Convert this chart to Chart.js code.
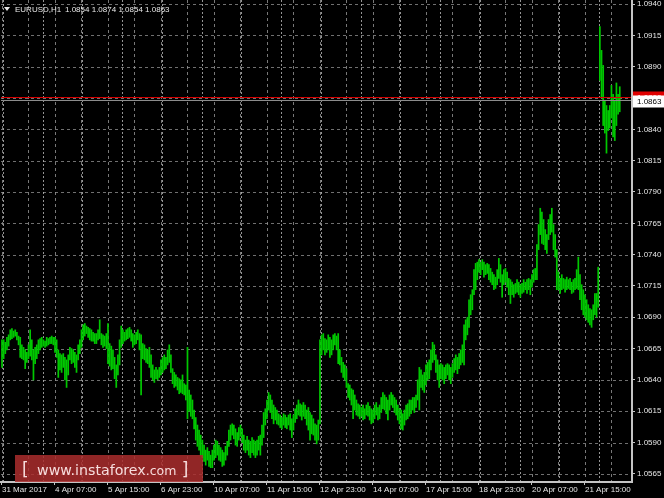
<!DOCTYPE html>
<html><head><meta charset="utf-8">
<script src="https://cdn.jsdelivr.net/npm/chart.js@4.4.1/dist/chart.umd.min.js"></script>
<style>html,body{margin:0;padding:0;background:#000;overflow:hidden}#wrap{width:664px;height:498px;position:relative}</style>
</head><body><div id="wrap"><canvas id="c" width="664" height="498"></canvas></div>
<script>
// ---- data ----
const symbolName = "EURUSD,H1";
const lastOHLC = [1.0854, 1.0874, 1.0854, 1.0863];
const bidPrice = 1.0863;
const askPrice = 1.0866;
const firstBar = -1; // bar number of first bar (31 Mar 23:00); 0 = 3 Apr 00:00
const highs = [
1.0672,1.0672,1.0670,1.0674,1.0676,1.0680,1.0681,1.0679,1.0680,1.0678,
1.0675,1.0674,1.0668,1.0666,1.0664,1.0662,1.0668,1.0680,1.0672,1.0664,
1.0666,1.0668,1.0672,1.0673,1.0674,1.0672,1.0671,1.0674,1.0673,1.0674,
1.0675,1.0674,1.0674,1.0672,1.0664,1.0661,1.0660,1.0661,1.0658,1.0656,
1.0660,1.0666,1.0665,1.0664,1.0662,1.0660,1.0668,1.0672,1.0680,1.0684,
1.0685,1.0683,1.0682,1.0681,1.0680,1.0678,1.0677,1.0677,1.0680,1.0688,
1.0677,1.0676,1.0675,1.0677,1.0685,1.0669,1.0667,1.0664,1.0658,1.0652,
1.0660,1.0672,1.0683,1.0680,1.0678,1.0680,1.0681,1.0682,1.0680,1.0677,
1.0676,1.0678,1.0680,1.0677,1.0676,1.0669,1.0668,1.0665,1.0664,1.0666,
1.0660,1.0652,1.0648,1.0650,1.0648,1.0650,1.0656,1.0658,1.0660,1.0658,
1.0664,1.0668,1.0660,1.0649,1.0646,1.0644,1.0642,1.0641,1.0640,1.0644,
1.0637,1.0636,1.0666,1.0632,1.0628,1.0624,1.0616,1.0610,1.0604,1.0600,
1.0596,1.0592,1.0588,1.0584,1.0586,1.0583,1.0580,1.0584,1.0588,1.0592,
1.0591,1.0588,1.0586,1.0584,1.0582,1.0587,1.0591,1.0600,1.0604,1.0605,
1.0604,1.0601,1.0598,1.0602,1.0604,1.0601,1.0596,1.0592,1.0595,1.0592,
1.0591,1.0594,1.0592,1.0591,1.0592,1.0595,1.0596,1.0604,1.0614,1.0617,
1.0624,1.0630,1.0628,1.0624,1.0620,1.0618,1.0616,1.0613,1.0612,1.0610,
1.0613,1.0612,1.0610,1.0612,1.0613,1.0609,1.0612,1.0617,1.0620,1.0624,
1.0621,1.0620,1.0622,1.0620,1.0616,1.0618,1.0614,1.0612,1.0609,1.0605,
1.0604,1.0608,1.0672,1.0676,1.0677,1.0673,1.0672,1.0676,1.0674,1.0672,
1.0676,1.0677,1.0675,1.0677,1.0664,1.0658,1.0654,1.0652,1.0649,1.0637,
1.0636,1.0633,1.0632,1.0628,1.0624,1.0621,1.0620,1.0618,1.0620,1.0617,
1.0620,1.0622,1.0619,1.0617,1.0616,1.0620,1.0622,1.0618,1.0620,1.0626,
1.0630,1.0628,1.0626,1.0624,1.0628,1.0630,1.0628,1.0626,1.0624,1.0620,
1.0617,1.0616,1.0613,1.0616,1.0620,1.0621,1.0624,1.0624,1.0626,1.0626,
1.0628,1.0640,1.0650,1.0648,1.0644,1.0646,1.0652,1.0654,1.0656,1.0664,
1.0670,1.0668,1.0660,1.0656,1.0652,1.0653,1.0652,1.0650,1.0652,1.0653,
1.0652,1.0650,1.0653,1.0657,1.0660,1.0658,1.0661,1.0664,1.0668,1.0684,
1.0688,1.0690,1.0704,1.0708,1.0712,1.0728,1.0733,1.0734,1.0736,1.0734,
1.0736,1.0734,1.0732,1.0733,1.0732,1.0729,1.0726,1.0724,1.0722,1.0728,
1.0737,1.0732,1.0724,1.0728,1.0729,1.0726,1.0721,1.0720,1.0718,1.0716,
1.0717,1.0720,1.0718,1.0716,1.0717,1.0720,1.0718,1.0720,1.0721,1.0720,
1.0724,1.0728,1.0729,1.0748,1.0764,1.0777,1.0774,1.0768,1.0760,1.0756,
1.0768,1.0772,1.0777,1.0764,1.0756,1.0744,1.0726,1.0721,1.0724,1.0721,
1.0720,1.0722,1.0720,1.0721,1.0718,1.0720,1.0721,1.0728,1.0738,1.0724,
1.0716,1.0712,1.0708,1.0704,1.0700,1.0697,1.0696,1.0700,1.0709,1.0709,
1.0730,1.0922,1.0903,1.0891,1.0863,1.0859,1.0855,1.0859,1.0875,1.0868,
1.0863,1.0877,1.0868,1.0874
];
const lows = [
1.0650,1.0657,1.0661,1.0664,1.0667,1.0672,1.0673,1.0674,1.0675,1.0672,
1.0668,1.0658,1.0657,1.0656,1.0649,1.0654,1.0657,1.0659,1.0656,1.0640,
1.0653,1.0657,1.0661,1.0664,1.0666,1.0667,1.0666,1.0667,1.0668,1.0669,
1.0669,1.0668,1.0662,1.0658,1.0642,1.0648,1.0646,1.0650,1.0640,1.0634,
1.0644,1.0656,1.0653,1.0654,1.0650,1.0646,1.0656,1.0661,1.0666,1.0672,
1.0675,1.0677,1.0674,1.0672,1.0671,1.0671,1.0669,1.0669,1.0672,1.0673,
1.0668,1.0666,1.0667,1.0665,1.0653,1.0651,1.0648,1.0649,1.0641,1.0634,
1.0644,1.0652,1.0666,1.0669,1.0671,1.0672,1.0673,1.0674,1.0671,1.0666,
1.0668,1.0669,1.0672,1.0664,1.0628,1.0657,1.0656,1.0654,1.0653,1.0650,
1.0642,1.0640,1.0638,1.0641,1.0640,1.0642,1.0644,1.0646,1.0648,1.0649,
1.0652,1.0654,1.0646,1.0637,1.0634,1.0635,1.0632,1.0629,1.0630,1.0629,
1.0628,1.0624,1.0609,1.0615,1.0611,1.0609,1.0601,1.0592,1.0587,1.0584,
1.0580,1.0578,1.0575,1.0572,1.0576,1.0571,1.0570,1.0570,1.0576,1.0578,
1.0580,1.0576,1.0575,1.0571,1.0572,1.0576,1.0580,1.0587,1.0592,1.0596,
1.0593,1.0588,1.0587,1.0592,1.0595,1.0590,1.0584,1.0582,1.0584,1.0580,
1.0578,1.0582,1.0580,1.0578,1.0580,1.0584,1.0580,1.0588,1.0594,1.0604,
1.0609,1.0616,1.0614,1.0609,1.0605,1.0608,1.0605,1.0604,1.0602,1.0601,
1.0604,1.0602,1.0601,1.0604,1.0600,1.0594,1.0600,1.0606,1.0609,1.0612,
1.0611,1.0608,1.0611,1.0609,1.0604,1.0600,1.0592,1.0597,1.0596,1.0592,
1.0589,1.0592,1.0605,1.0660,1.0664,1.0660,1.0662,1.0664,1.0658,1.0660,
1.0664,1.0668,1.0664,1.0653,1.0652,1.0646,1.0642,1.0640,1.0634,1.0626,
1.0624,1.0620,1.0609,1.0616,1.0612,1.0611,1.0609,1.0611,1.0608,1.0609,
1.0612,1.0611,1.0608,1.0605,1.0606,1.0609,1.0612,1.0608,1.0609,1.0614,
1.0617,1.0616,1.0613,1.0608,1.0616,1.0620,1.0618,1.0614,1.0612,1.0608,
1.0605,1.0601,1.0600,1.0604,1.0608,1.0609,1.0611,1.0613,1.0616,1.0614,
1.0618,1.0624,1.0616,1.0634,1.0632,1.0630,1.0636,1.0640,1.0641,1.0648,
1.0654,1.0656,1.0646,1.0640,1.0634,1.0641,1.0640,1.0637,1.0641,1.0644,
1.0640,1.0637,1.0642,1.0646,1.0648,1.0645,1.0649,1.0652,1.0654,1.0652,
1.0672,1.0676,1.0682,1.0692,1.0696,1.0708,1.0712,1.0720,1.0726,1.0724,
1.0728,1.0722,1.0724,1.0725,1.0720,1.0718,1.0716,1.0712,1.0713,1.0716,
1.0721,1.0718,1.0706,1.0716,1.0718,1.0714,1.0708,1.0701,1.0708,1.0706,
1.0709,1.0710,1.0708,1.0706,1.0709,1.0710,1.0712,1.0709,1.0712,1.0708,
1.0714,1.0718,1.0720,1.0720,1.0744,1.0756,1.0749,1.0748,1.0744,1.0741,
1.0752,1.0756,1.0758,1.0744,1.0738,1.0712,1.0712,1.0709,1.0712,1.0713,
1.0710,1.0712,1.0713,1.0712,1.0709,1.0710,1.0712,1.0713,1.0712,1.0704,
1.0696,1.0692,1.0690,1.0688,1.0686,1.0684,1.0682,1.0688,1.0692,1.0690,
1.0698,1.0879,1.0866,1.0843,1.0837,1.0821,1.0839,1.0841,1.0849,1.0834,
1.0831,1.0843,1.0852,1.0854
];
const xTickBars = [-1, 31, 63, 95, 127, 159, 191, 223, 255, 287, 319, 351];
const xTickLabels = ["31 Mar 2017","4 Apr 07:00","5 Apr 15:00","6 Apr 23:00","10 Apr 07:00","11 Apr 15:00","12 Apr 23:00","14 Apr 07:00","17 Apr 15:00","18 Apr 23:00","20 Apr 07:00","21 Apr 15:00"];
const xGridBars = [-1,15,31,47,63,79,95,111,127,143,159,175,191,207,223,239,255,271,287,303,319,335,351,367];
const daySeparatorBars = [0,24,48,72,96,120,144,168,192,216,240,264,288,312,336,360];
const yTicks = [1.0565,1.0590,1.0615,1.0640,1.0665,1.0690,1.0715,1.0740,1.0765,1.0790,1.0815,1.0840,1.0865,1.0890,1.0915,1.0940];
const yLabelTicks = [1.0565,1.0590,1.0615,1.0640,1.0665,1.0690,1.0715,1.0740,1.0765,1.0790,1.0815,1.0840,1.0890,1.0915,1.0940];
const watermark = ["[ ", "www.instaforex", ".com", " ]"];

// ---- chart ----
const FONT = "Liberation Sans, Arial, sans-serif";
const gridPlugin = {
  id: 'mtgrid',
  beforeDatasetsDraw(chart) {
    const {ctx, chartArea: a, scales: {x, y}} = chart;
    ctx.save();
    ctx.lineWidth = 1;
    ctx.setLineDash([3, 3]);
    ctx.strokeStyle = 'rgba(140,140,140,0.8)';
    yTicks.forEach(v => {
      const py = Math.round(y.getPixelForValue(v)) + 0.5;
      ctx.beginPath(); ctx.moveTo(a.left, py); ctx.lineTo(a.right, py); ctx.stroke();
    });
    ctx.strokeStyle = 'rgba(150,150,150,0.8)';
    xGridBars.forEach(b => {
      const px = Math.round(x.getPixelForValue(b)) + 0.5;
      ctx.beginPath(); ctx.moveTo(px, a.top); ctx.lineTo(px, a.bottom); ctx.stroke();
    });
    ctx.setLineDash([2, 2]);
    ctx.strokeStyle = 'rgba(185,185,185,0.8)';
    daySeparatorBars.forEach(b => {
      const px = Math.round(x.getPixelForValue(b - 0.5)) + 0.5;
      ctx.beginPath(); ctx.moveTo(px, a.top); ctx.lineTo(px, a.bottom); ctx.stroke();
    });
    ctx.restore();
  },
  afterDatasetsDraw(chart) {
    const {ctx, chartArea: a, scales: {y}} = chart;
    ctx.save();
    // bid / ask lines
    const pb = Math.round(y.getPixelForValue(bidPrice)) + 0.5;
    const pa = Math.round(y.getPixelForValue(askPrice)) + 0.5;
    ctx.lineWidth = 1;
    ctx.strokeStyle = '#8c8c8c';
    ctx.beginPath(); ctx.moveTo(a.left, pb); ctx.lineTo(a.right, pb); ctx.stroke();
    ctx.strokeStyle = '#d80000';
    ctx.beginPath(); ctx.moveTo(a.left, pa); ctx.lineTo(a.right, pa); ctx.stroke();
    // borders
    ctx.strokeStyle = '#c4c4c4';
    ctx.lineWidth = 2;
    ctx.beginPath(); ctx.moveTo(a.right + 1, a.top); ctx.lineTo(a.right + 1, a.bottom + 2); ctx.stroke();
    ctx.beginPath(); ctx.moveTo(a.left - 1, a.bottom + 1); ctx.lineTo(a.right + 1, a.bottom + 1); ctx.stroke();
    // price boxes
    ctx.font = '8px ' + FONT;
    ctx.textBaseline = 'middle';
    ctx.fillStyle = '#e00000';
    ctx.fillRect(a.right + 2, pa - 6, 664 - a.right - 2, 11);
    ctx.fillStyle = '#fff';
    ctx.fillText(askPrice.toFixed(4), a.right + 6, pa);
    ctx.fillStyle = '#ffffff';
    ctx.fillRect(a.right + 2, pb - 5, 664 - a.right - 2, 12);
    ctx.fillStyle = '#000';
    ctx.fillText(bidPrice.toFixed(4), a.right + 6, pb + 1);
    // header
    ctx.fillStyle = '#e8e8e8';
    ctx.beginPath(); ctx.moveTo(4, 7); ctx.lineTo(10, 7); ctx.lineTo(7, 11); ctx.closePath(); ctx.fill();
    ctx.textBaseline = 'middle';
    ctx.fillText(symbolName, 15, 9.5);
    ctx.fillText(lastOHLC.map(v => v.toFixed(4)).join(' '), 65, 9.5);
    // watermark
    ctx.fillStyle = 'rgba(170,45,45,0.85)';
    ctx.fillRect(15, 455, 188, 27);
    ctx.fillStyle = 'rgba(255,235,235,0.92)';
    ctx.textBaseline = 'alphabetic';
    let wx = 22;
    ctx.font = '17px DejaVu Sans, sans-serif';
    ctx.fillText(watermark[0], wx, 475); wx += ctx.measureText(watermark[0]).width + 3;
    ctx.font = '14.2px DejaVu Sans, sans-serif';
    ctx.fillText(watermark[1], wx, 475); wx += ctx.measureText(watermark[1]).width;
    ctx.font = '12.5px DejaVu Sans, sans-serif';
    ctx.fillText(watermark[2], wx, 475); wx += ctx.measureText(watermark[2]).width;
    ctx.font = '17px DejaVu Sans, sans-serif';
    ctx.fillText(watermark[3], wx, 475);
    ctx.restore();
  }
};

const bars = highs.map((h, k) => ({x: firstBar + k, y: [lows[k], h]}));

new Chart(document.getElementById('c'), {
  type: 'bar',
  data: {datasets: [{data: bars, backgroundColor: '#00c800', borderWidth: 0, barThickness: 1.05, grouped: false}]},
  options: {
    responsive: false, animation: false, devicePixelRatio: 1,
    layout: {padding: {left: 1, top: 0, right: 0, bottom: 0}},
    plugins: {legend: {display: false}, tooltip: {enabled: false}, title: {display: false}},
    scales: {
      x: {
        type: 'linear', min: -1.6, max: 378.8, offset: false,
        grid: {display: true, drawOnChartArea: false, drawTicks: true, tickLength: 4, offset: false, color: '#c4c4c4'},
        border: {display: false},
        afterBuildTicks: s => { s.ticks = xTickBars.map(v => ({value: v})); },
        afterFit: s => { s.height = 17; s.paddingLeft = 0; s.paddingRight = 0; },
        ticks: {autoSkip: false, maxRotation: 0, minRotation: 0, align: 'start', padding: 0, color: '#e6e6e6',
          font: {family: FONT, size: 8},
          callback: v => { const i = xTickBars.indexOf(v); return i >= 0 ? xTickLabels[i] : ''; }}
      },
      y: {
        position: 'right', min: 1.055935, max: 1.09432,
        grid: {display: true, drawOnChartArea: false, drawTicks: true, tickLength: 4, color: '#c4c4c4'},
        border: {display: false},
        afterBuildTicks: s => { s.ticks = yLabelTicks.map(v => ({value: v})); },
        afterFit: s => { s.width = 33; s.paddingTop = 0; s.paddingBottom = 0; },
        ticks: {padding: 2, color: '#e6e6e6', font: {family: FONT, size: 8}, callback: v => Number(v).toFixed(4)}
      }
    }
  },
  plugins: [gridPlugin]
});
</script>
</body></html>
